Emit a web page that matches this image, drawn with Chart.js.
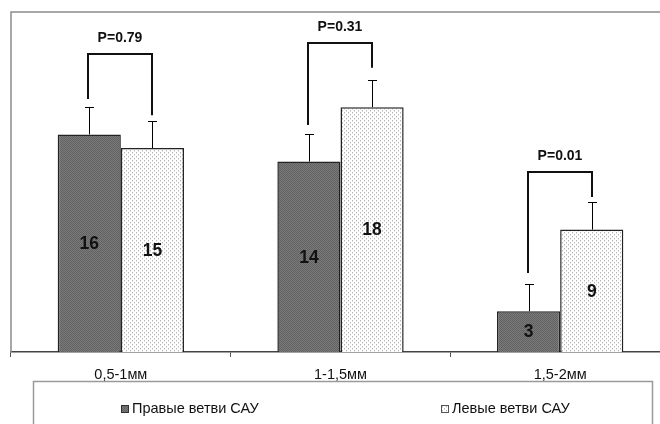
<!DOCTYPE html>
<html><head><meta charset="utf-8">
<script src="https://cdn.jsdelivr.net/npm/chart.js@4"></script>
<style>
html,body{margin:0;padding:0;background:#fff;overflow:hidden;width:660px;height:424px}
#wrap{position:absolute;left:0;top:0;width:680px;height:424px}
</style></head>
<body><div id="wrap"><canvas id="c" width="680" height="424"></canvas></div>
<script>
const categories = ['0,5-1мм', '1-1,5мм', '1,5-2мм'];
const seriesNames = ['Правые ветви САУ', 'Левые ветви САУ'];
const rightValues = [16, 14, 3];
const leftValues = [15, 18, 9];
const rightErrors = [2, 2, 2];
const leftErrors = [2, 2, 2];
const pLabels = ['P=0.79', 'P=0.31', 'P=0.01'];
const bracketTop = [21.9, 22.7, 13.2];
const bracketLeftEnd = [18.6, 16.7, 5.8];
const bracketRightEnd = [17.4, 20.9, 11.4];
const yMax = 25;

function makeDarkPattern(){
  const c = document.createElement('canvas'); c.width = 2; c.height = 2;
  const g = c.getContext('2d');
  g.fillStyle = '#7a7a7a'; g.fillRect(0,0,2,2);
  g.fillStyle = '#626262'; g.fillRect(0,0,1,1); g.fillRect(1,1,1,1);
  return g.createPattern(c, 'repeat');
}
function makeLightPattern(){
  const c = document.createElement('canvas'); c.width = 4; c.height = 4;
  const g = c.getContext('2d');
  g.fillStyle = '#ffffff'; g.fillRect(0,0,4,4);
  g.fillStyle = '#b4b4b4'; g.fillRect(0,0,1,1); g.fillRect(2,2,1,1);
  g.fillStyle = '#e0e0e0'; g.fillRect(0,1,1,1); g.fillRect(2,3,1,1);
  return g.createPattern(c, 'repeat');
}
const darkPat = makeDarkPattern();
const lightPat = makeLightPattern();
const FONT = "'Liberation Sans', Arial, sans-serif";

const extras = {
  id: 'extras',
  beforeDatasetsDraw(chart){
    const ctx = chart.ctx, a = chart.chartArea;
    ctx.save();
    ctx.strokeStyle = '#8c8c8c'; ctx.lineWidth = 1.5;
    ctx.beginPath();
    ctx.moveTo(a.left, a.bottom); ctx.lineTo(a.left, a.top); ctx.lineTo(a.right, a.top);
    ctx.stroke();
    ctx.restore();
  },
  afterDatasetsDraw(chart){
    const ctx = chart.ctx, y = chart.scales.y;
    const errs = [rightErrors, leftErrors];
    const vals = [rightValues, leftValues];
    ctx.save();
    ctx.strokeStyle = '#000'; ctx.lineWidth = 1;
    [0,1].forEach(di => {
      const meta = chart.getDatasetMeta(di);
      meta.data.forEach((bar, i) => {
        const x = Math.round(bar.x) + 0.5;
        const y0 = y.getPixelForValue(vals[di][i]);
        const y1 = Math.round(y.getPixelForValue(vals[di][i] + errs[di][i])) + 0.5;
        ctx.beginPath(); ctx.moveTo(x, y0); ctx.lineTo(x, y1);
        ctx.moveTo(x - 4.5, y1); ctx.lineTo(x + 4.5, y1); ctx.stroke();
      });
    });
    ctx.fillStyle = '#111'; ctx.font = 'bold 17.5px ' + FONT;
    ctx.textAlign = 'center'; ctx.textBaseline = 'middle';
    [0,1].forEach(di => {
      const meta = chart.getDatasetMeta(di);
      meta.data.forEach((bar, i) => {
        ctx.fillText(String(vals[di][i]), bar.x, (bar.y + bar.base) / 2 + 1);
      });
    });
    const mR = chart.getDatasetMeta(0), mL = chart.getDatasetMeta(1);
    ctx.strokeStyle = '#111'; ctx.lineWidth = 2; ctx.lineJoin = 'miter';
    ctx.font = 'bold 14px ' + FONT;
    categories.forEach((c, i) => {
      const xl = Math.round(mR.data[i].x) - 1, xr = Math.round(mL.data[i].x);
      const yt = Math.round(y.getPixelForValue(bracketTop[i]));
      ctx.beginPath();
      ctx.moveTo(xl, y.getPixelForValue(bracketLeftEnd[i]));
      ctx.lineTo(xl, yt); ctx.lineTo(xr, yt);
      ctx.lineTo(xr, y.getPixelForValue(bracketRightEnd[i]));
      ctx.stroke();
      ctx.fillText(pLabels[i], (xl + xr) / 2, yt - 16);
    });
    ctx.restore();
  },
  afterDraw(chart){
    const ctx = chart.ctx;
    ctx.save();
    ctx.strokeStyle = '#9a9a9a'; ctx.lineWidth = 1.5;
    ctx.beginPath();
    ctx.moveTo(33.5, 440); ctx.lineTo(33.5, 381.5); ctx.lineTo(652.5, 381.5); ctx.lineTo(652.5, 440);
    ctx.stroke();
    const items = [{x: 121, fill: darkPat, border: '#333'}, {x: 441, fill: lightPat, border: '#555'}];
    ctx.font = '14.5px ' + FONT; ctx.textBaseline = 'middle'; ctx.textAlign = 'left';
    items.forEach((it, i) => {
      ctx.fillStyle = it.fill; ctx.fillRect(it.x, 405, 8, 8);
      ctx.strokeStyle = it.border; ctx.lineWidth = 1; ctx.strokeRect(it.x + 0.5, 405.5, 7, 7);
      ctx.fillStyle = '#111';
      ctx.fillText(seriesNames[i], it.x + 11, 409);
    });
    ctx.restore();
  }
};

new Chart(document.getElementById('c'), {
  type: 'bar',
  data: {
    labels: categories,
    datasets: [
      {label: seriesNames[0], data: rightValues, backgroundColor: darkPat, borderColor: '#222', borderWidth: 1.5},
      {label: seriesNames[1], data: leftValues, backgroundColor: lightPat, borderColor: '#222', borderWidth: 1.5}
    ]
  },
  options: {
    responsive: false, animation: false, devicePixelRatio: 1,
    layout: {padding: {left: 11, top: 12, right: 10, bottom: 0}},
    categoryPercentage: 0.575, barPercentage: 1.0,
    plugins: {legend: {display: false}, tooltip: {enabled: false}},
    scales: {
      x: {
        grid: {display: true, drawOnChartArea: false, drawTicks: true, tickLength: 5, offset: true, color: '#555'},
        border: {display: true, color: '#444', width: 1.5},
        ticks: {font: {family: FONT, size: 14.5}, color: '#111', padding: 9},
        afterFit: s => { s.height = 72; }
      },
      y: {display: false, min: 0, max: yMax}
    }
  },
  plugins: [extras]
});
</script></body></html>
